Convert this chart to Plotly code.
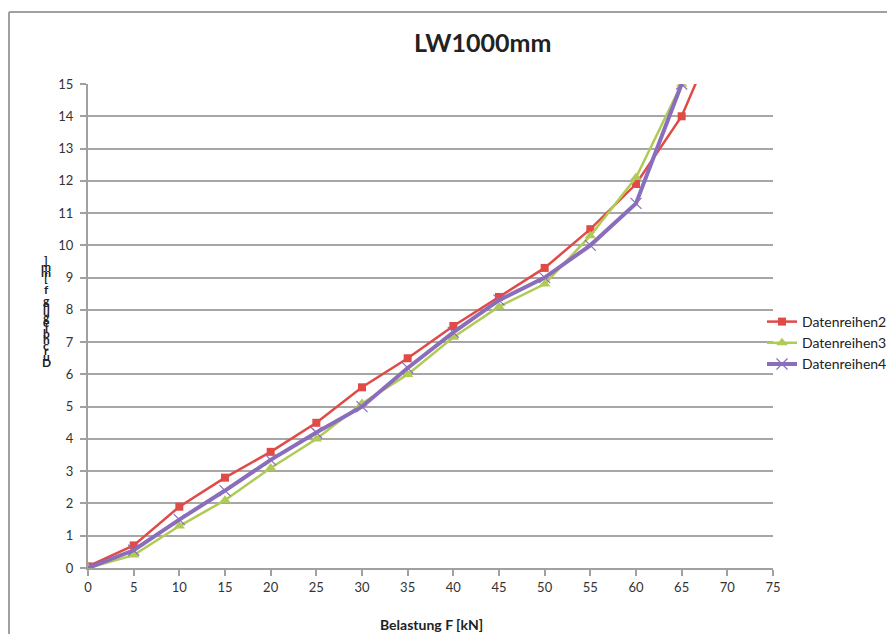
import plotly.graph_objects as go

x_vals = [0, 5, 10, 15, 20, 25, 30, 35, 40, 45, 50, 55, 60, 65]
red_x = [0, 5, 10, 15, 20, 25, 30, 35, 40, 45, 50, 55, 60, 65, 70]
red_y = [0.05, 0.7, 1.9, 2.8, 3.6, 4.5, 5.6, 6.5, 7.5, 8.4, 9.3, 10.5, 11.9, 14.0, 17.3]
green_y = [0.0, 0.4, 1.3, 2.1, 3.1, 4.0, 5.1, 6.0, 7.15, 8.1, 8.8, 10.3, 12.1, 15.0]
purple_y = [0.0, 0.55, 1.5, 2.4, 3.35, 4.2, 5.0, 6.2, 7.3, 8.3, 9.0, 10.0, 11.3, 15.0]
names = ["Datenreihen2", "Datenreihen3", "Datenreihen4"]
title = "LW1000mm"
x_title = "Belastung F [kN]"
y_title = "Durchbiegung f [mm]"

OFF = 8  # browser body margin
W, H = 895 - 2 * OFF, 642 - 2 * OFF
# plot area in page pixels (reference)
L, R, T, B = 88, 773, 84, 568

def px(xp):
    return (xp - L) / (R - L)

def py(yp):
    return (B - yp) / (B - T)

font = "Lato, 'Open Sans', sans-serif"

fig = go.Figure()
fig.add_trace(go.Scatter(x=red_x, y=red_y, name=names[0], mode="lines+markers",
                         line=dict(color="#E04A47", width=2.5),
                         marker=dict(symbol="square", size=8, color="#E04A47")))
fig.add_trace(go.Scatter(x=x_vals, y=green_y, name=names[1], mode="lines+markers",
                         line=dict(color="#AFCB55", width=2.5),
                         marker=dict(symbol="triangle-up", size=10, color="#AFCB55")))
fig.add_trace(go.Scatter(x=x_vals, y=purple_y, name=names[2], mode="lines+markers",
                         line=dict(color="#8A6DBB", width=4),
                         marker=dict(symbol="x-thin-open", size=11,
                                     line=dict(color="#8A6DBB", width=1.2))))

annotations = [
    dict(text="<b>%s</b>" % title, x=px(483), y=py(42), xref="paper", yref="paper",
         xanchor="center", yanchor="middle",
         showarrow=False, font=dict(family=font, size=25, color="#222222")),
    dict(text="<b>%s</b>" % x_title, x=px(431), y=py(624), xref="paper", yref="paper",
         xanchor="center", yanchor="middle",
         showarrow=False, font=dict(family=font, size=14, color="#222222")),
]
rev = list(y_title)[::-1]
top, bot = 261, 362
step = (bot - top) / (len(rev) - 1)
for i, ch in enumerate(rev):
    if ch == " ":
        continue
    annotations.append(dict(text="<b>%s</b>" % ch, x=px(46), y=py(top + i * step),
                            xref="paper", yref="paper", showarrow=False,
                            xanchor="center", yanchor="middle",
                            font=dict(family=font, size=12, color="#222222")))

fig.update_layout(
    width=W, height=H,
    margin=dict(l=L - OFF, r=W - (R - OFF), t=T - OFF, b=H - (B - OFF), autoexpand=False),
    paper_bgcolor="white", plot_bgcolor="white",
    showlegend=True,
    legend=dict(x=px(762), y=py(343), xanchor="left", yanchor="middle",
                font=dict(family=font, size=14, color="#222222"),
                bgcolor="rgba(0,0,0,0)", itemwidth=30, tracegroupgap=0),
    annotations=annotations,
    shapes=[
        dict(type="line", xref="paper", yref="paper",
             x0=px(9), x1=px(9), y0=py(12), y1=py(700),
             line=dict(color="#A0A0A0", width=2), layer="above"),
        dict(type="line", xref="paper", yref="paper",
             x0=px(9), x1=px(960), y0=py(12), y1=py(12),
             line=dict(color="#A0A0A0", width=2), layer="above"),
    ],
)
fig.update_xaxes(range=[0, 75], tickmode="linear", tick0=0, dtick=5,
                 showgrid=False, zeroline=False, showline=True,
                 linecolor="#A0A0A0", linewidth=2, ticks="outside", ticklen=6,
                 tickcolor="#A0A0A0", tickwidth=2,
                 tickfont=dict(family=font, size=13, color="#333333"))
fig.update_yaxes(range=[0, 15], tickmode="linear", tick0=0, dtick=1,
                 showgrid=True, gridcolor="#A6A6A6", gridwidth=2,
                 zeroline=False, showline=True,
                 linecolor="#A0A0A0", linewidth=2, ticks="outside", ticklen=6,
                 tickcolor="#A0A0A0", tickwidth=2, ticklabelstandoff=4,
                 tickfont=dict(family=font, size=13, color="#333333"))

fig.write_html("out.html")
